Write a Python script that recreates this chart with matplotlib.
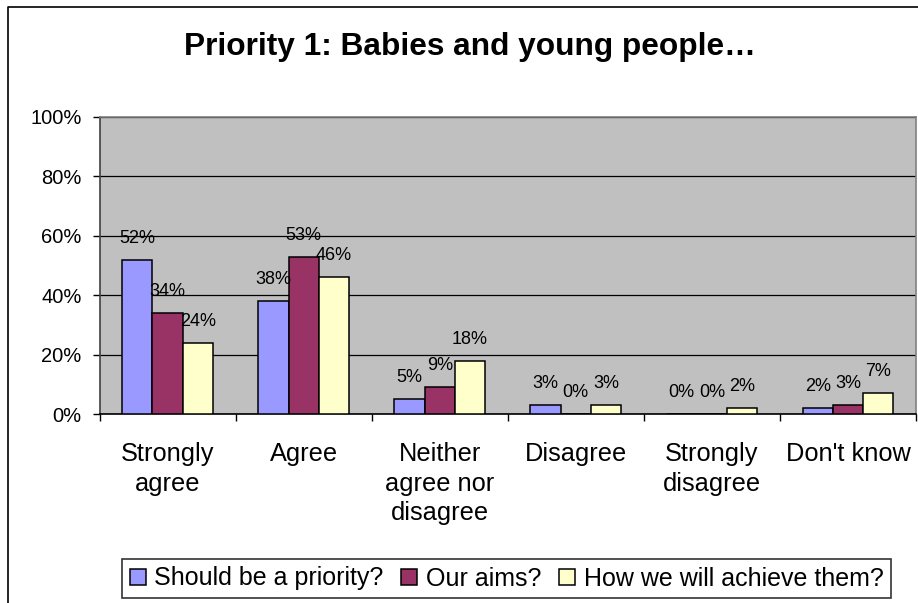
import numpy as np
import matplotlib.pyplot as plt
from matplotlib.lines import Line2D

plt.rcParams['font.family'] = ['Liberation Sans', 'DejaVu Sans']

categories = ["Strongly\nagree", "Agree", "Neither\nagree nor\ndisagree",
              "Disagree", "Strongly\ndisagree", "Don't know"]
series_names = ["Should be a priority?", "Our aims?", "How we will achieve them?"]
priority = [52, 38, 5, 3, 0, 2]
aims = [34, 53, 9, 0, 0, 3]
achieve = [24, 46, 18, 3, 2, 7]
colors = ["#9999FF", "#993366", "#FFFFCC"]

W, H = 918, 603
fig = plt.figure(figsize=(W / 100, H / 100), dpi=100)

# chart border (only left and top edges fall inside the picture)
fig.add_artist(Line2D([8 / W, 8 / W, 1.0], [0.0, 1 - 7 / H, 1 - 7 / H],
                      transform=fig.transFigure, color="black", linewidth=1.2))

ax = fig.add_axes([99.5 / W, 1 - 414 / H, (916 - 99.5) / W, (414 - 117) / H])
ax.set_facecolor("#C0C0C0")

x = np.arange(len(categories))
w = 1 / 4.5
for i, (vals, c) in enumerate(zip([priority, aims, achieve], colors)):
    pos = x + (i - 1) * w
    ax.bar(pos, vals, width=w, color=c, edgecolor="black", linewidth=1.1,
           label=series_names[i], zorder=3)
    for xp, v in zip(pos, vals):
        ax.annotate("{}%".format(v), (xp, v), xytext=(0, 15.5), textcoords="offset points",
                    ha="center", va="center", fontsize=13, zorder=4)

ax.set_xlim(-0.5, len(categories) - 0.5)
ax.set_ylim(0, 100)
ax.set_yticks(range(0, 101, 20))
ax.set_yticklabels(["{}%".format(t) for t in range(0, 101, 20)], fontsize=14.5)
ax.yaxis.grid(True, color="black", linewidth=0.9, zorder=0)
ax.set_axisbelow(True)

ax.set_xticks(np.arange(-0.5, len(categories)))
ax.set_xticklabels([])
ax.set_xticks(x, minor=True)
ax.set_xticklabels(categories, minor=True, fontsize=18.3, linespacing=1.27, va="top")
ax.tick_params(axis="x", which="major", length=5, width=1, direction="out")
ax.tick_params(axis="x", which="minor", length=0, pad=20.5)
ax.tick_params(axis="y", length=5, width=1, direction="out", pad=8)

for s in ["top", "right"]:
    ax.spines[s].set_color("#808080")
    ax.spines[s].set_linewidth(1.2)
ax.spines["left"].set_color("#404040")
ax.spines["bottom"].set_color("black")
for s in ["left", "bottom"]:
    ax.spines[s].set_linewidth(1.2)

fig.text(470 / W, 1 - 55 / H, "Priority 1: Babies and young people…",
         ha="center", va="baseline", fontsize=22.8, fontweight="bold")

leg = fig.legend(loc="center", bbox_to_anchor=(506.5 / W, 1 - 578.5 / H), ncol=3,
                 fontsize=18, frameon=True, fancybox=False, edgecolor="black",
                 handlelength=0.64, handleheight=0.6, handletextpad=0.35,
                 columnspacing=0.7, borderpad=0.3, borderaxespad=0)
leg.get_frame().set_linewidth(1.2)

fig.savefig("out.png", dpi=100)
